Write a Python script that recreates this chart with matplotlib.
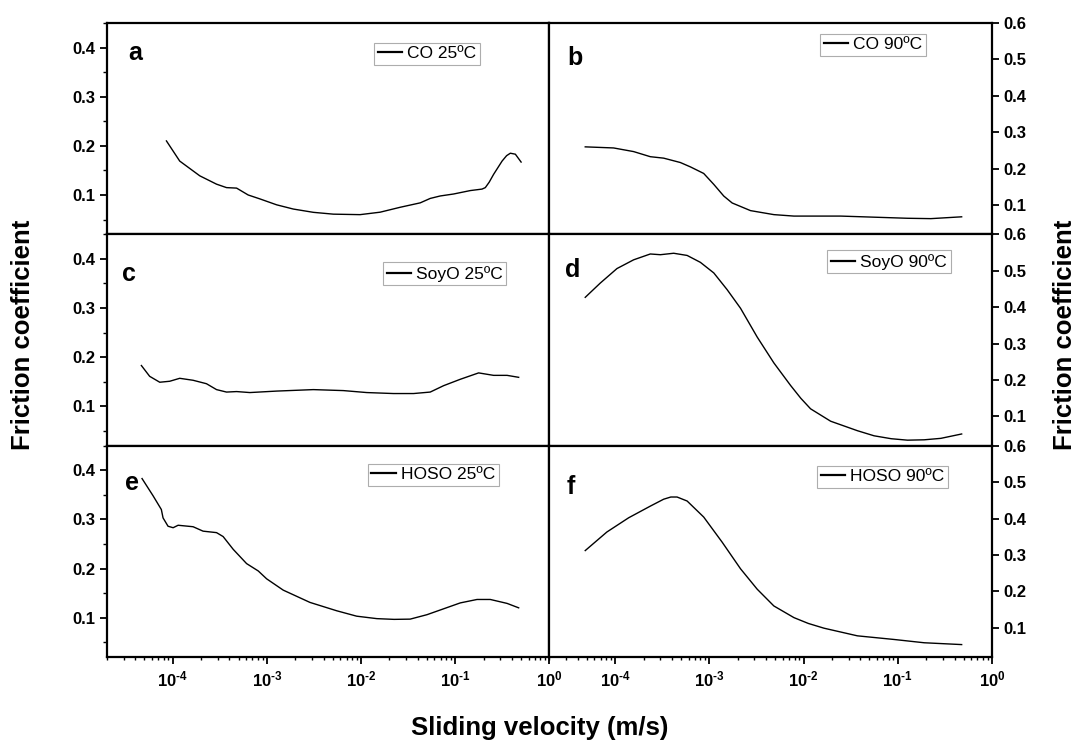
import numpy as np
import matplotlib
matplotlib.use("Agg")
import matplotlib.pyplot as plt
from matplotlib.ticker import FixedLocator, FuncFormatter, LogLocator, NullFormatter

plt.rcParams["font.family"] = ["Liberation Sans", "DejaVu Sans"]
plt.rcParams["mathtext.fontset"] = "custom"
plt.rcParams["mathtext.rm"] = "Liberation Sans:bold"
plt.rcParams["mathtext.bf"] = "Liberation Sans:bold"

# log10 of sliding velocity (m/s) and friction coefficient
a_logv = [-4.067, -3.926, -3.713, -3.535, -3.429, -3.322, -3.199, -3.074, -2.897, -2.720,
          -2.507, -2.295, -2.011, -1.798, -1.585, -1.372, -1.266, -1.160, -1.018, -0.840,
          -0.716, -0.681, -0.640, -0.593, -0.503, -0.455, -0.415, -0.362, -0.301]
a_mu = [0.210, 0.169, 0.139, 0.122, 0.115, 0.114, 0.100, 0.092, 0.080, 0.0714,
        0.0647, 0.061, 0.060, 0.065, 0.075, 0.084, 0.093, 0.098, 0.102, 0.109,
        0.112, 0.115, 0.126, 0.142, 0.169, 0.180, 0.185, 0.183, 0.167]

b_logv = [-4.319, -4.018, -3.805, -3.628, -3.486, -3.309, -3.202, -3.061, -2.954, -2.848,
          -2.759, -2.564, -2.316, -2.103, -1.606, -1.252, -0.897, -0.649, -0.322]
b_mu = [0.260, 0.257, 0.247, 0.233, 0.229, 0.217, 0.205, 0.187, 0.157, 0.125,
        0.106, 0.085, 0.074, 0.070, 0.070, 0.067, 0.064, 0.063, 0.068]

c_logv = [-4.333, -4.245, -4.138, -4.032, -3.926, -3.784, -3.642, -3.535, -3.429, -3.322,
          -3.181, -2.897, -2.507, -2.188, -1.940, -1.656, -1.443, -1.266, -1.124, -0.947,
          -0.752, -0.593, -0.450, -0.327]
c_mu = [0.183, 0.161, 0.149, 0.151, 0.157, 0.153, 0.146, 0.134, 0.129, 0.130,
        0.128, 0.131, 0.134, 0.132, 0.128, 0.126, 0.126, 0.129, 0.142, 0.155,
        0.168, 0.163, 0.163, 0.159]

d_logv = [-4.319, -4.160, -3.982, -3.805, -3.628, -3.521, -3.380, -3.237, -3.096, -2.954,
          -2.812, -2.670, -2.493, -2.316, -2.138, -2.030, -1.926, -1.713, -1.429, -1.252,
          -1.070, -0.897, -0.720, -0.543, -0.322]
d_mu = [0.427, 0.466, 0.506, 0.530, 0.546, 0.544, 0.548, 0.542, 0.523, 0.494,
        0.448, 0.397, 0.318, 0.247, 0.185, 0.150, 0.121, 0.087, 0.061, 0.047,
        0.039, 0.035, 0.036, 0.040, 0.052]

e_logv = [-4.326, -4.209, -4.121, -4.103, -4.050, -3.996, -3.943, -3.784, -3.678, -3.535,
          -3.465, -3.358, -3.216, -3.092, -3.003, -2.827, -2.543, -2.259, -2.047, -1.833,
          -1.650, -1.479, -1.301, -1.124, -0.947, -0.769, -0.628, -0.450, -0.327]
e_mu = [0.383, 0.348, 0.320, 0.303, 0.286, 0.283, 0.288, 0.285, 0.276, 0.273,
        0.265, 0.239, 0.210, 0.195, 0.179, 0.156, 0.131, 0.114, 0.103, 0.098,
        0.0965, 0.097, 0.106, 0.118, 0.130, 0.137, 0.137, 0.129, 0.120]

f_logv = [-4.319, -4.089, -3.858, -3.628, -3.486, -3.410, -3.344, -3.237, -3.061, -2.865,
          -2.670, -2.493, -2.316, -2.103, -1.950, -1.784, -1.429, -1.039, -0.720, -0.322]
f_mu = [0.312, 0.363, 0.402, 0.434, 0.453, 0.459, 0.459, 0.448, 0.404, 0.335,
        0.262, 0.206, 0.160, 0.128, 0.112, 0.099, 0.078, 0.068, 0.059, 0.054]

panel_letters = ["a", "b", "c", "d", "e", "f"]
legend_labels = ["CO 25ºC", "CO 90ºC", "SoyO 25ºC", "SoyO 90ºC", "HOSO 25ºC", "HOSO 90ºC"]
series = [(a_logv, a_mu), (b_logv, b_mu), (c_logv, c_mu),
          (d_logv, d_mu), (e_logv, e_mu), (f_logv, f_mu)]
x_tick_exps = [-4, -3, -2, -1, 0]
left_yticks = [0.1, 0.2, 0.3, 0.4]
left_yminor = [0.05, 0.15, 0.25, 0.35, 0.45]
right_yticks = [0.1, 0.2, 0.3, 0.4, 0.5, 0.6]

# legend anchor (upper-left of box) in axes fraction, and letter baseline positions
legend_anchor = [(0.604, 0.906), (0.612, 0.95), (0.624, 0.867),
                 (0.628, 0.924), (0.590, 0.915), (0.605, 0.905)]
letter_pos = [(0.048, 0.825), (0.040, 0.80), (0.034, 0.777),
              (0.036, 0.80), (0.041, 0.79), (0.038, 0.773)]

fig = plt.figure(figsize=(10.8, 7.41), dpi=100)
gs = fig.add_gridspec(3, 2, left=0.099, right=0.9185, top=0.969, bottom=0.1134,
                      wspace=0, hspace=0)


def xlabel_fmt(v, p):
    e = int(round(np.log10(v)))
    if e < 0:
        return r"$\mathbf{10^{\text{-}%d}}$" % (-e)
    return r"$\mathbf{10^{%d}}$" % e


for i, (logv, mu) in enumerate(series):
    row, col = divmod(i, 2)
    ax = fig.add_subplot(gs[row, col])
    x = 10 ** np.array(logv)
    ax.plot(x, mu, color="black", linewidth=1.0, label=legend_labels[i])
    ax.set_xscale("log")
    ax.set_xlim(2e-5, 1)
    for s in ax.spines.values():
        s.set_linewidth(1.6)

    ax.xaxis.set_major_locator(FixedLocator([10.0 ** e for e in x_tick_exps]))
    ax.xaxis.set_minor_locator(LogLocator(base=10, subs=np.arange(2, 10), numticks=20))
    ax.xaxis.set_minor_formatter(NullFormatter())
    ax.tick_params(axis="x", which="major", direction="out", length=5, width=1.3,
                   top=False, labelsize=12, pad=4)
    ax.tick_params(axis="x", which="minor", direction="out", length=2.5, width=1.0, top=False)
    if row == 2:
        ax.xaxis.set_major_formatter(FuncFormatter(xlabel_fmt))
    else:
        ax.tick_params(axis="x", labelbottom=False)

    if col == 0:
        ax.set_ylim(0.02, 0.45)
        ax.yaxis.set_major_locator(FixedLocator(left_yticks))
        ax.yaxis.set_minor_locator(FixedLocator(left_yminor))
        ax.tick_params(axis="y", which="major", direction="out", length=5, width=1.3,
                       left=True, right=False, labelsize=12)
        ax.tick_params(axis="y", which="minor", direction="out", length=3, width=1.0,
                       left=True, right=False)
    else:
        ax.set_ylim(0.02, 0.6)
        ax.yaxis.tick_right()
        ax.yaxis.set_major_locator(FixedLocator(right_yticks))
        ax.tick_params(axis="y", which="major", direction="out", length=5, width=1.3,
                       left=False, right=True, labelsize=12)
        ax.tick_params(axis="y", which="minor", left=False, right=False)
    ax.yaxis.set_major_formatter(FuncFormatter(lambda v, p: "%.1f" % v))
    for lab in ax.get_yticklabels():
        lab.set_fontweight("bold")

    ax.text(letter_pos[i][0], letter_pos[i][1], panel_letters[i], transform=ax.transAxes,
            fontsize=18, fontweight="bold", va="baseline", ha="left")
    leg = ax.legend(loc="upper left", bbox_to_anchor=legend_anchor[i], fontsize=12.5,
                    frameon=True, fancybox=False, borderpad=0.2, handlelength=1.4,
                    handletextpad=0.3, borderaxespad=0)
    leg.get_frame().set_edgecolor("#999999")
    leg.get_frame().set_linewidth(0.8)
    for h in leg.get_lines():
        h.set_linewidth(1.6)

fig.text(0.021, 0.548, "Friction coefficient", rotation=90, fontsize=18.5,
         fontweight="bold", ha="center", va="center")
fig.text(0.986, 0.548, "Friction coefficient", rotation=90, fontsize=18.5,
         fontweight="bold", ha="center", va="center")
fig.text(0.5, 0.018, "Sliding velocity (m/s)", fontsize=18.5, fontweight="bold",
         ha="center", va="center")

fig.savefig("out.png", dpi=100)
